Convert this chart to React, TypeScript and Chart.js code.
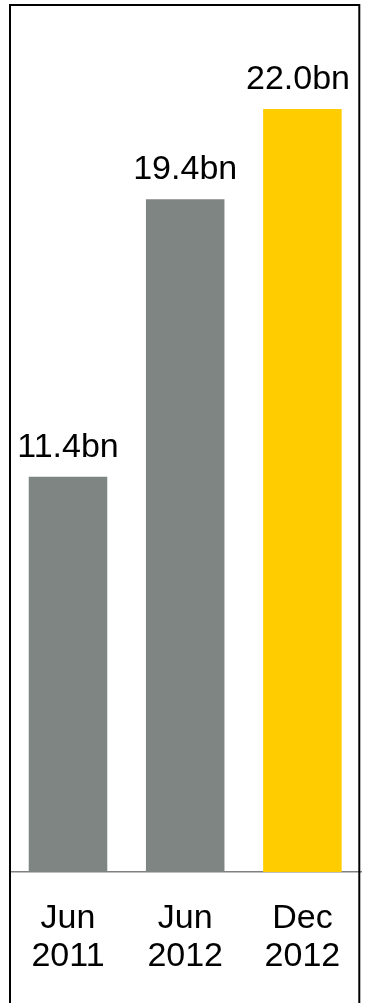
import React, { useEffect, useRef } from "react";
import { Chart, registerables } from "chart.js";

Chart.register(...registerables);

const categories: string[][] = [["Jun", "2011"], ["Jun", "2012"], ["Dec", "2012"]];
const values: number[] = [11.4, 19.4, 22.0];
const valueLabels: string[] = ["11.4bn", "19.4bn", "22.0bn"];
const barColors: string[] = ["#7f8583", "#7f8583", "#ffcc00"];

const FONT = '"Liberation Sans", Arial, sans-serif';

const frameAndLabels = {
  id: "frameAndLabels",
  afterDatasetsDraw(chart: any) {
    const ctx = chart.ctx;
    const meta = chart.getDatasetMeta(0);
    const area = chart.chartArea;
    ctx.save();
    ctx.fillStyle = "#000";
    ctx.font = `34px ${FONT}`;
    ctx.textAlign = "center";
    ctx.textBaseline = "alphabetic";
    meta.data.forEach((bar: any, i: number) => {
      const w = ctx.measureText(valueLabels[i]).width;
      const x = Math.min(bar.x, area.right - 11 - w / 2);
      ctx.fillText(valueLabels[i], x, bar.y - 20);
    });
    ctx.restore();
  },
  afterDraw(chart: any) {
    const ctx = chart.ctx;
    ctx.save();
    ctx.strokeStyle = "#000";
    ctx.lineWidth = 2;
    ctx.beginPath();
    ctx.moveTo(10, chart.height);
    ctx.lineTo(10, 5);
    ctx.lineTo(359.3, 5);
    ctx.lineTo(359.3, chart.height);
    ctx.stroke();
    ctx.restore();
  },
};

export default function App() {
  const ref = useRef<HTMLCanvasElement | null>(null);
  useEffect(() => {
    if (!ref.current) return;
    const chart = new Chart(ref.current, {
      type: "bar",
      data: {
        labels: categories,
        datasets: [
          {
            data: values,
            backgroundColor: barColors,
            borderWidth: 0,
            barPercentage: 0.67,
            categoryPercentage: 1,
          },
        ],
      },
      options: {
        responsive: false,
        animation: false,
        devicePixelRatio: 1,
        layout: { padding: { left: 9.4, right: 4, top: 5, bottom: 0 } },
        plugins: { legend: { display: false }, tooltip: { enabled: false } },
        scales: {
          x: {
            grid: { display: false, drawTicks: false },
            border: { display: true, color: "#808080", width: 1.5 },
            ticks: {
              color: "#000",
              font: { family: FONT, size: 34, lineHeight: 1.13 },
              padding: 27,
              maxRotation: 0,
              autoSkip: false,
            },
            afterFit: (scale: any) => {
              scale.height = 131;
              scale.paddingLeft = 0;
              scale.paddingRight = 0;
            },
          },
          y: { display: false, min: 0, max: 25 },
        },
      },
      plugins: [frameAndLabels],
    });
    return () => chart.destroy();
  }, []);
  return (
    <div style={{ position: "fixed", left: 0, top: 0, width: 365, height: 1003, background: "#fff" }}>
      <canvas ref={ref} width={365} height={1003} style={{ display: "block" }} />
    </div>
  );
}
